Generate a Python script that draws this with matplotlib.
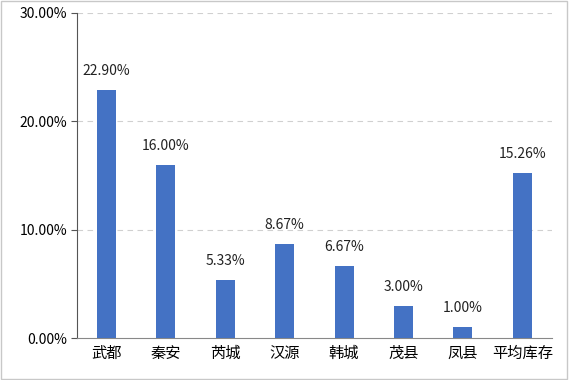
import matplotlib
matplotlib.use("Agg")
import matplotlib.pyplot as plt
from matplotlib.patches import Rectangle
import numpy as np

plt.rcParams['font.family'] = ['Noto Sans CJK SC', 'DejaVu Sans']

categories = ['武都', '秦安', '芮城', '汉源', '韩城', '茂县', '凤县', '平均库存']
values = [22.90, 16.00, 5.33, 8.67, 6.67, 3.00, 1.00, 15.26]
yticks = [0, 10, 20, 30]

fig = plt.figure(figsize=(5.69, 3.80), dpi=100)
ax = fig.add_axes([0.135, 0.1105, 0.835, 0.8555])

x = np.arange(len(categories))
ax.bar(x, values, width=0.32, color='#4472C4', zorder=3)
for xi, v in zip(x, values):
    ax.text(xi, v + 1.1, f'{v:.2f}%', ha='center', va='bottom', fontsize=10, color='#222222')

ax.set_xlim(-0.5, len(categories) - 0.5)
ax.set_ylim(0, 30)
ax.set_yticks(yticks)
ax.set_yticklabels([f'{t:.2f}%' for t in yticks], fontsize=10)
ax.set_xticks(x)
ax.set_xticklabels(categories, fontsize=11)
ax.tick_params(axis='x', length=0, pad=5)
ax.tick_params(axis='y', length=4, color='#555555', pad=3)

for t in yticks[1:]:
    ax.axhline(t, color='#d0d0d0', linestyle=(0, (5, 4)), linewidth=0.8, zorder=1)

for s in ['top', 'right']:
    ax.spines[s].set_visible(False)
ax.spines['left'].set_color('#555555')
ax.spines['bottom'].set_color('#888888')

fig.patches.append(Rectangle((0.002, 0.003), 0.995, 0.994, transform=fig.transFigure,
                             fill=False, edgecolor='#c8c8c8', linewidth=1))

fig.savefig('out.png', dpi=100)
